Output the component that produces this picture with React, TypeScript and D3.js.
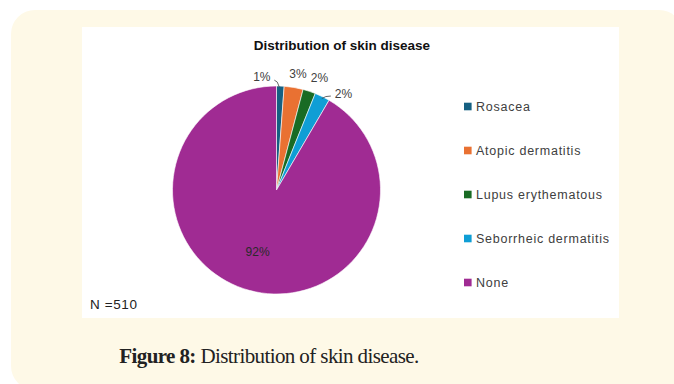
import React from "react";
import * as d3 from "d3";

const categories = ["Rosacea", "Atopic dermatitis", "Lupus erythematous", "Seborrheic dermatitis", "None"];
const counts = [6, 15, 10, 12, 467];
const percentLabels = ["1%", "3%", "2%", "2%", "92%"];
const colors = ["#156082", "#E97132", "#196B24", "#0F9ED5", "#A02B93"];
const chartTitle = "Distribution of skin disease";
const sampleNote = "N =510";

// label placement: radius factor and fine offsets
const labelRadius = [1.12, 1.13, 1.13, 1.2, 0.62];
const labelShift: [number, number][] = [[-19, 3.5], [2, 0], [6, 0], [12, 16], [-2, 0]];
const hasLeader = [true, false, false, true, false];

export default function App() {
  const W = 674, H = 384;
  const cx = 276.5, cy = 190, R = 104;

  const pie = d3.pie<number>().sort(null).startAngle(0).endAngle(2 * Math.PI);
  const arcs = pie(counts);
  const arc = d3.arc<d3.PieArcDatum<number>>().innerRadius(0).outerRadius(R);

  const polar = (a: number, r: number): [number, number] => [cx + r * Math.sin(a), cy - r * Math.cos(a)];

  const legendY = d3.scalePoint<string>().domain(categories).range([106.5, 282.5]);

  return (
    <svg width={W} height={H} style={{ position: "absolute", left: 0, top: 0 }}>
      <rect x={11} y={10} width={672} height={380} rx={24} fill="#FEF9E7" />
      <rect x={82} y={27} width={537} height={291} fill="#FFFFFF" />
      <text x={342} y={49.5} textAnchor="middle" fontFamily="Liberation Sans, Arial, sans-serif" fontWeight="bold" fontSize={13.5} fill="#111">
        {chartTitle}
      </text>
      <g transform={`translate(${cx},${cy})`}>
        {arcs.map((d, i) => (
          <path key={i} d={arc(d) || ""} fill={colors[i]} stroke="#fff" strokeWidth={0.6} />
        ))}
      </g>
      {arcs.map((d, i) => {
        const mid = (d.startAngle + d.endAngle) / 2;
        const [px, py] = polar(mid, R * labelRadius[i]);
        const lx = px + labelShift[i][0];
        const ly = py + labelShift[i][1];
        let leader = null;
        if (hasLeader[i]) {
          const [ex, ey] = polar(mid, R * 0.99);
          if (i === 0) {
            leader = <path d={`M${ex - 1},${ey} L${ex - 3},${ey - 5} L${ex - 6},${ey - 7}`} stroke="#404040" fill="none" strokeWidth={0.8} />;
          } else {
            leader = <path d={`M${ex},${ey + 1} L${ex + 4},${ey - 1} L${ex + 9},${ey - 1.5}`} stroke="#404040" fill="none" strokeWidth={0.8} />;
          }
        }
        return (
          <g key={i}>
            {leader}
            <text x={lx} y={ly} textAnchor="middle" dominantBaseline="central" fontFamily="Liberation Sans, Arial, sans-serif" fontSize={12} fill={i === 4 ? "#2a2a2a" : "#404040"}>
              {percentLabels[i]}
            </text>
          </g>
        );
      })}
      {categories.map((c, i) => (
        <g key={c} transform={`translate(464,${legendY(c)})`}>
          <rect x={0} y={-3.8} width={7.6} height={7.6} fill={colors[i]} />
          <text x={12} y={0} dominantBaseline="central" fontFamily="Liberation Sans, Arial, sans-serif" fontSize={12.5} letterSpacing={0.75} fill="#404040">
            {c}
          </text>
        </g>
      ))}
      <text x={90} y={309} fontFamily="Liberation Sans, Arial, sans-serif" fontSize={13.5} letterSpacing={0.6} fill="#222">
        {sampleNote}
      </text>
      <text x={269} y={363} textAnchor="middle" fontFamily="Liberation Serif, Times New Roman, serif" fontSize={21} letterSpacing={-0.6} fill="#222">
        <tspan fontWeight="bold">Figure 8:</tspan>
        <tspan> Distribution of skin disease.</tspan>
      </text>
    </svg>
  );
}
